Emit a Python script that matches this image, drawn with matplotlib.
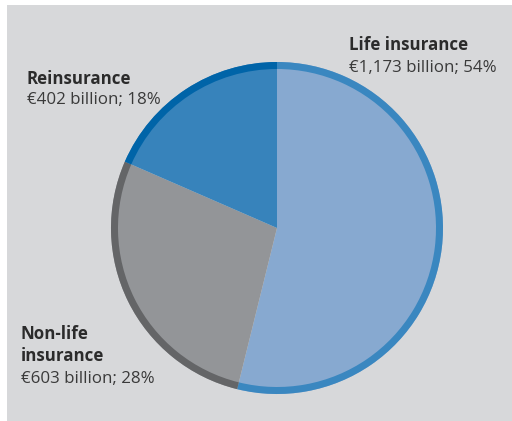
import matplotlib
matplotlib.use("Agg")
import matplotlib.pyplot as plt
from matplotlib.patches import Rectangle

# Data
categories = ["Life insurance", "Non-life insurance", "Reinsurance"]
values_bn = [1173, 603, 402]
shares = [54, 28, 18]
fill_colors = ["#87a9d0", "#939598", "#3783bb"]
rim_colors = ["#3a87c0", "#646567", "#0064a8"]

W, H = 512, 421
fig = plt.figure(figsize=(W / 100, H / 100), dpi=100, facecolor="white")
ax = fig.add_axes([0, 0, 1, 1])

center = (277, H - 228)
R = 166
ax.pie(values_bn, colors=fill_colors, startangle=90, counterclock=False,
       center=center, radius=R, frame=True,
       wedgeprops=dict(linewidth=0, edgecolor="none"))
ax.pie(values_bn, colors=rim_colors, startangle=90, counterclock=False,
       center=center, radius=R, frame=True,
       wedgeprops=dict(width=7, linewidth=0, edgecolor="none"))
ax.set_xlim(0, W)
ax.set_ylim(0, H)
ax.set_aspect("equal")
ax.axis("off")

# grey panel behind everything
ax.add_patch(Rectangle((7, 0), W - 7, H - 5, facecolor="#d7d8da",
                       edgecolor="none", zorder=-1))

fam = ["Open Sans", "DejaVu Sans"]
fs = 12.2
bold_c = "#2b2b2b"
reg_c = "#3a3a3a"


def label(x, y_lines, title_lines, value_line, gap):
    for t, y in zip(title_lines, y_lines):
        ax.text(x, H - y, t, fontsize=fs, fontweight="bold", color=bold_c,
                family=fam, va="baseline", ha="left")
    ax.text(x, H - y_lines[-1] - gap, value_line, fontsize=fs, color=reg_c,
            family=fam, va="baseline", ha="left")


label(349, [50], ["Life insurance"], f"€{values_bn[0]:,} billion; {shares[0]}%", 22)
label(27, [84], ["Reinsurance"], f"€{values_bn[2]:,} billion; {shares[2]}%", 20)
label(21, [339, 361], ["Non-life", "insurance"], f"€{values_bn[1]:,} billion; {shares[1]}%", 22)

fig.savefig("out.png", dpi=100, facecolor="white")
